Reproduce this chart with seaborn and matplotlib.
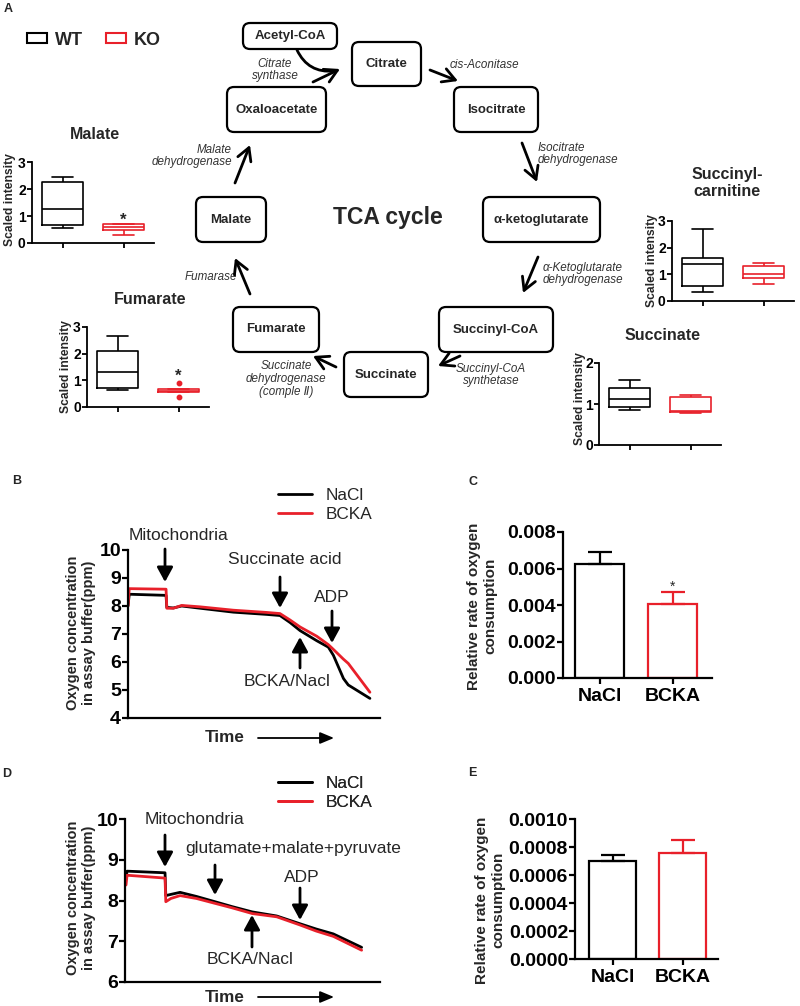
import numpy as np
import pandas as pd
import matplotlib
matplotlib.use("Agg")
import matplotlib.pyplot as plt
import seaborn as sns
from matplotlib.patches import FancyBboxPatch, Patch
from matplotlib.lines import Line2D
from matplotlib.ticker import FormatStrFormatter

# ---------------- data ----------------
box_groups = ["WT", "KO"]
malate_wt = [0.55, 0.65, 1.25, 2.25, 2.45]
malate_ko = [0.30, 0.50, 0.60, 0.70, 0.72]
fumarate_wt = [0.65, 0.72, 1.30, 2.10, 2.65]
fumarate_ko = [0.38, 0.55, 0.58, 0.60, 0.64, 0.68, 0.90]
succcarn_wt = [0.35, 0.55, 1.38, 1.60, 2.70]
succcarn_ko = [0.62, 0.88, 1.00, 1.30, 1.42]
succinate_wt = [0.85, 0.92, 1.12, 1.38, 1.58]
succinate_ko = [0.78, 0.80, 0.83, 1.18, 1.23]

treatments = ["NaCl", "BCKA"]
time_b = [0, 0.5, 15.1, 15.4, 18.0, 21.3, 28.6, 41.8, 55.0, 60.3, 64.3, 68.3, 74.9, 79.5, 81.5, 85.5, 87.4, 96.0]
nacl_b = [8.0, 8.42, 8.38, 7.95, 7.93, 8.0, 7.92, 7.78, 7.70, 7.66, 7.41, 7.12, 6.76, 6.53, 6.24, 5.41, 5.18, 4.70]
bcka_b = [8.0, 8.62, 8.60, 7.92, 7.92, 8.02, 7.97, 7.85, 7.77, 7.73, 7.50, 7.25, 6.92, 6.62, 6.45, 6.10, 5.95, 4.92]

time_d = [0.4, 0.8, 15.7, 16.0, 18.0, 21.6, 28.0, 35.3, 42.0, 49.9, 59.5, 68.6, 75.0, 81.7, 92.8]
nacl_d = [8.55, 8.72, 8.68, 8.12, 8.15, 8.20, 8.10, 7.97, 7.85, 7.72, 7.62, 7.43, 7.30, 7.18, 6.85]
bcka_d = [8.38, 8.62, 8.55, 7.97, 8.05, 8.12, 8.05, 7.93, 7.82, 7.68, 7.60, 7.40, 7.25, 7.12, 6.78]

rate_c = [0.00624, 0.00405]
err_c = [0.00067, 0.00064]
rate_e = [0.000703, 0.000755]
err_e = [0.000040, 0.000095]

# ---------------- style ----------------
sns.set_theme(style="ticks")
plt.rcParams["font.family"] = ["Liberation Sans", "DejaVu Sans"]
RED = "#e8202a"
pal_box = {"WT": "black", "KO": RED}
pal_tr = {"NaCl": "black", "BCKA": RED}

W, H = 800, 1006
fig = plt.figure(figsize=(8, 10.06), dpi=100)


def px_axes(x0, y_top, x1, y_bot):
    ax = fig.add_axes([x0 / W, 1 - y_bot / H, (x1 - x0) / W, (y_bot - y_top) / H])
    ax.set_facecolor("none")
    return ax


def style_axes(ax, lw=1.3, labelsize=9.5, length=3.5):
    sns.despine(ax=ax)
    for s in ["left", "bottom"]:
        ax.spines[s].set_linewidth(lw)
        ax.spines[s].set_color("black")
    ax.tick_params(direction="out", length=length, width=lw, labelsize=labelsize,
                   colors="black", pad=1)
    for lab in ax.get_yticklabels() + ax.get_xticklabels():
        lab.set_fontweight("bold")
    ax.set_xlabel("")
    ax.set_ylabel("")


def box_panel(rect, wt, ko, ylim, yticks, star_y=None):
    ax = px_axes(*rect)
    df = pd.DataFrame({"group": ["WT"] * len(wt) + ["KO"] * len(ko),
                       "value": list(wt) + list(ko)})
    sns.boxplot(data=df, x="group", y="value", hue="group", order=box_groups,
                hue_order=box_groups, palette=pal_box, fill=False, width=0.66,
                linewidth=1.2, whis=1.5, fliersize=3.2,
                flierprops=dict(marker="o", markerfacecolor=RED, markeredgecolor=RED),
                legend=False, ax=ax)
    ax.set_xlim(-0.5, 1.5)
    ax.set_ylim(*ylim)
    ax.set_yticks(yticks)
    style_axes(ax, labelsize=10)
    ax.tick_params(axis="x", labelbottom=False)
    if star_y is not None:
        ax.text(1, star_y, "*", ha="center", va="baseline", fontsize=12,
                fontweight="bold", clip_on=False)
    return ax


# ---------------- box plots (panel A) ----------------
box_panel((32, 162, 154, 243), malate_wt, malate_ko, (0, 3), [0, 1, 2, 3], star_y=0.68)
box_panel((87, 327, 209, 407), fumarate_wt, fumarate_ko, (0, 3), [0, 1, 2, 3], star_y=0.98)
box_panel((672, 221, 794, 301), succcarn_wt, succcarn_ko, (0, 3), [0, 1, 2, 3])
box_panel((599, 363, 721, 445), succinate_wt, succinate_ko, (0, 2), [0, 1, 2])

# ---------------- line plots (B, D) ----------------
def line_panel(rect, t, nacl, bcka, ylim, yticks):
    ax = px_axes(*rect)
    df = pd.DataFrame({"Time": list(t) + list(t), "O2": list(nacl) + list(bcka),
                       "Treatment": ["NaCl"] * len(t) + ["BCKA"] * len(t)})
    sns.lineplot(data=df, x="Time", y="O2", hue="Treatment", hue_order=treatments,
                 palette=pal_tr, linewidth=2, estimator=None, sort=False,
                 legend=False, ax=ax)
    ax.set_xlim(0, 100)
    ax.set_ylim(*ylim)
    ax.set_yticks(yticks)
    ax.set_xticks([])
    style_axes(ax, lw=1.6, labelsize=14, length=4)
    return ax


line_panel((128, 550, 380, 718), time_b, nacl_b, bcka_b, (4, 10), list(range(4, 11)))
line_panel((125, 819, 380, 982), time_d, nacl_d, bcka_d, (6, 10), list(range(6, 11)))

# ---------------- bar plots (C, E) ----------------
def bar_panel(rect, vals, errs, ylim, yticks, fmt, xlim, star_y=None):
    ax = px_axes(*rect)
    df = pd.DataFrame({"Treatment": treatments, "rate": vals})
    sns.barplot(data=df, x="Treatment", y="rate", hue="Treatment", order=treatments,
                hue_order=treatments, palette=pal_tr, fill=False, width=0.67,
                linewidth=1.6, errorbar=None, legend=False, ax=ax)
    for i, (v, e) in enumerate(zip(vals, errs)):
        ax.errorbar(i, v, yerr=[[0], [e]], fmt="none", ecolor=pal_tr[treatments[i]],
                    elinewidth=1.6, capsize=8.5, capthick=1.6)
    ax.set_xlim(*xlim)
    ax.set_ylim(*ylim)
    ax.set_yticks(yticks)
    ax.yaxis.set_major_formatter(FormatStrFormatter(fmt))
    style_axes(ax, lw=1.6, labelsize=14, length=4)
    ax.tick_params(axis="x", pad=3)
    if star_y is not None:
        ax.text(1, star_y, "*", ha="center", va="baseline", fontsize=10, clip_on=False)
    return ax


bar_panel((563, 532, 712, 678), rate_c, err_c, (0, 0.008),
          [0, 0.002, 0.004, 0.006, 0.008], "%.3f", (-0.5, 1.54), star_y=0.0048)
bar_panel((575, 819, 718, 959), rate_e, err_e, (0, 0.001),
          [0, 0.0002, 0.0004, 0.0006, 0.0008, 0.0010], "%.4f", (-0.54, 1.5))

# ---------------- overlay (diagram, labels, annotations) ----------------
ax0 = fig.add_axes([0, 0, 1, 1], zorder=10)
ax0.set_xlim(0, W)
ax0.set_ylim(H, 0)
ax0.axis("off")

# panel letters
for letter, (x, y) in {"A": (8, 9), "B": (17, 481), "C": (473, 482),
                       "D": (7, 774), "E": (472, 773)}.items():
    ax0.text(x, y, letter, ha="center", va="center", fontsize=9, fontweight="bold")

# WT / KO legend
leg = ax0.legend(handles=[Patch(facecolor="none", edgecolor="black", linewidth=1.5),
                          Patch(facecolor="none", edgecolor=RED, linewidth=1.5)],
                 labels=box_groups, ncol=2, loc="center left", bbox_to_anchor=(27, 40),
                 bbox_transform=ax0.transData, frameon=False, borderpad=0,
                 borderaxespad=0, handlelength=1.1, handleheight=0.5,
                 handletextpad=0.45, columnspacing=1.25,
                 prop={"size": 13, "weight": "bold"})
ax0.add_artist(leg)

# box plot titles & y labels
titles = [("Malate", 95, 134), ("Fumarate", 150, 299),
          ("Succinyl-\ncarnitine", 727, 183), ("Succinate", 663, 336)]
for txt, x, y in titles:
    ax0.text(x, y, txt, ha="center", va="center", fontsize=11.5, fontweight="bold",
             linespacing=1.2)
for x, y in [(10, 200), (66, 367), (652, 261), (580, 399)]:
    ax0.text(x, y, "Scaled intensity", ha="center", va="center", rotation=90,
             fontsize=8.7, fontweight="bold")

# TCA diagram boxes
boxes = {
    "Acetyl-CoA": (243, 23, 337, 49),
    "Citrate": (352, 42, 421, 86),
    "Oxaloacetate": (227, 87, 326, 132),
    "Isocitrate": (454, 87, 538, 132),
    "Malate": (196, 197, 266, 242),
    "α-ketoglutarate": (483, 197, 600, 242),
    "Fumarate": (233, 307, 319, 352),
    "Succinyl-CoA": (439, 307, 553, 352),
    "Succinate": (344, 352, 428, 397),
}
for name, (x0, y0, x1, y1) in boxes.items():
    ax0.add_patch(FancyBboxPatch((x0, y0), x1 - x0, y1 - y0,
                                 boxstyle="round,pad=0,rounding_size=7",
                                 linewidth=1.6, edgecolor="black", facecolor="white"))
    ax0.text((x0 + x1) / 2, (y0 + y1) / 2, name, ha="center", va="center",
             fontsize=9.5, fontweight="bold")

ax0.text(388, 217, "TCA cycle", ha="center", va="center", fontsize=16.5, fontweight="bold")

enz_kw = dict(fontsize=8.4, style="italic", color="#333333", linespacing=1.1, va="center")
ax0.text(275, 70, "Citrate\nsynthase", ha="center", **enz_kw)
ax0.text(450, 65, "cis-Aconitase", ha="left", **enz_kw)
ax0.text(538, 154, "Isocitrate\ndehydrogenase", ha="left", **enz_kw)
ax0.text(232, 156, "Malate\ndehydrogenase", ha="right", multialignment="right", **enz_kw)
ax0.text(237, 277, "Fumarase", ha="right", **enz_kw)
ax0.text(543, 274, "α-Ketoglutarate\ndehydrogenase", ha="left", **enz_kw)
ax0.text(491, 375, "Succinyl-CoA\nsynthetase", ha="center", **enz_kw)
ax0.text(286, 379, "Succinate\ndehydrogenase\n(comple Ⅱ)", ha="center", **enz_kw)


def arrow(p0, p1, style="->,head_length=0.5,head_width=0.28", lw=2.0, ms=18,
          conn="arc3,rad=0"):
    ax0.annotate("", xy=p1, xytext=p0, xycoords="data", textcoords="data",
                 arrowprops=dict(arrowstyle=style, lw=lw, color="black", shrinkA=0,
                                 shrinkB=0, mutation_scale=ms, connectionstyle=conn))


tca_arrows = [((313, 82), (340, 69)), ((430, 70), (458, 81)), ((522, 143), (537, 182)),
              ((538, 257), (523, 293)), ((460, 356), (438, 366)), ((336, 367), (313, 356)),
              ((250, 294), (235, 258)), ((235, 183), (250, 145))]
for p0, p1 in tca_arrows:
    arrow(p0, p1)
arrow((297, 50), (334, 71), style="-", conn="arc3,rad=0.35")

# legends for B and D
for yc in (505, 793):
    lg = ax0.legend(handles=[Line2D([], [], color="black", lw=2),
                             Line2D([], [], color=RED, lw=2)],
                    labels=treatments, loc="center left", bbox_to_anchor=(278, yc),
                    bbox_transform=ax0.transData, frameon=False, borderpad=0,
                    borderaxespad=0, handlelength=2.0, handletextpad=0.75,
                    labelspacing=0.25, prop={"size": 12.4})
    ax0.add_artist(lg)

# y labels for B-E
ylab_kw = dict(ha="center", va="center", rotation=90, fontweight="bold", linespacing=1.2)
ax0.text(81, 633, "Oxygen concentration\nin assay buffer(ppm)", fontsize=10.5, **ylab_kw)
ax0.text(81, 898, "Oxygen concentration\nin assay buffer(ppm)", fontsize=10.5, **ylab_kw)
ax0.text(482, 606, "Relative rate of oxygen\nconsumption", fontsize=11, **ylab_kw)
ax0.text(490, 900, "Relative rate of oxygen\nconsumption", fontsize=11, **ylab_kw)

# Time labels
for y in (738, 997):
    ax0.text(225, y, "Time", ha="center", va="center", fontsize=12.3, fontweight="bold")
    arrow((258, y), (334, y), style="-|>,head_length=0.6,head_width=0.25", lw=1.3, ms=14)

# annotation arrows B
ann_kw = dict(ha="center", va="center", fontsize=12.5)
solid = "-|>,head_length=0.55,head_width=0.3"
ax0.text(178, 535, "Mitochondria", **ann_kw)
arrow((165, 549), (165, 582), style=solid, ms=16)
ax0.text(285, 560, "Succinate acid", **ann_kw)
arrow((280, 577), (280, 608), style=solid, ms=16)
ax0.text(332, 597, "ADP", **ann_kw)
arrow((332, 611), (332, 643), style=solid, ms=16)
ax0.text(287, 682, "BCKA/Nacl", **ann_kw)
arrow((300, 668), (300, 637), style=solid, ms=16)

# annotation arrows D
ax0.text(195, 820, "Mitochondria", **ann_kw)
arrow((165, 835), (165, 867), style=solid, ms=16)
ax0.text(293, 848, "glutamate+malate+pyruvate", **ann_kw)
arrow((215, 865), (215, 895), style=solid, ms=16)
ax0.text(302, 878, "ADP", **ann_kw)
arrow((300, 888), (300, 920), style=solid, ms=16)
ax0.text(250, 960, "BCKA/Nacl", **ann_kw)
arrow((252, 947), (252, 915), style=solid, ms=16)

fig.savefig("out.png", dpi=100)
